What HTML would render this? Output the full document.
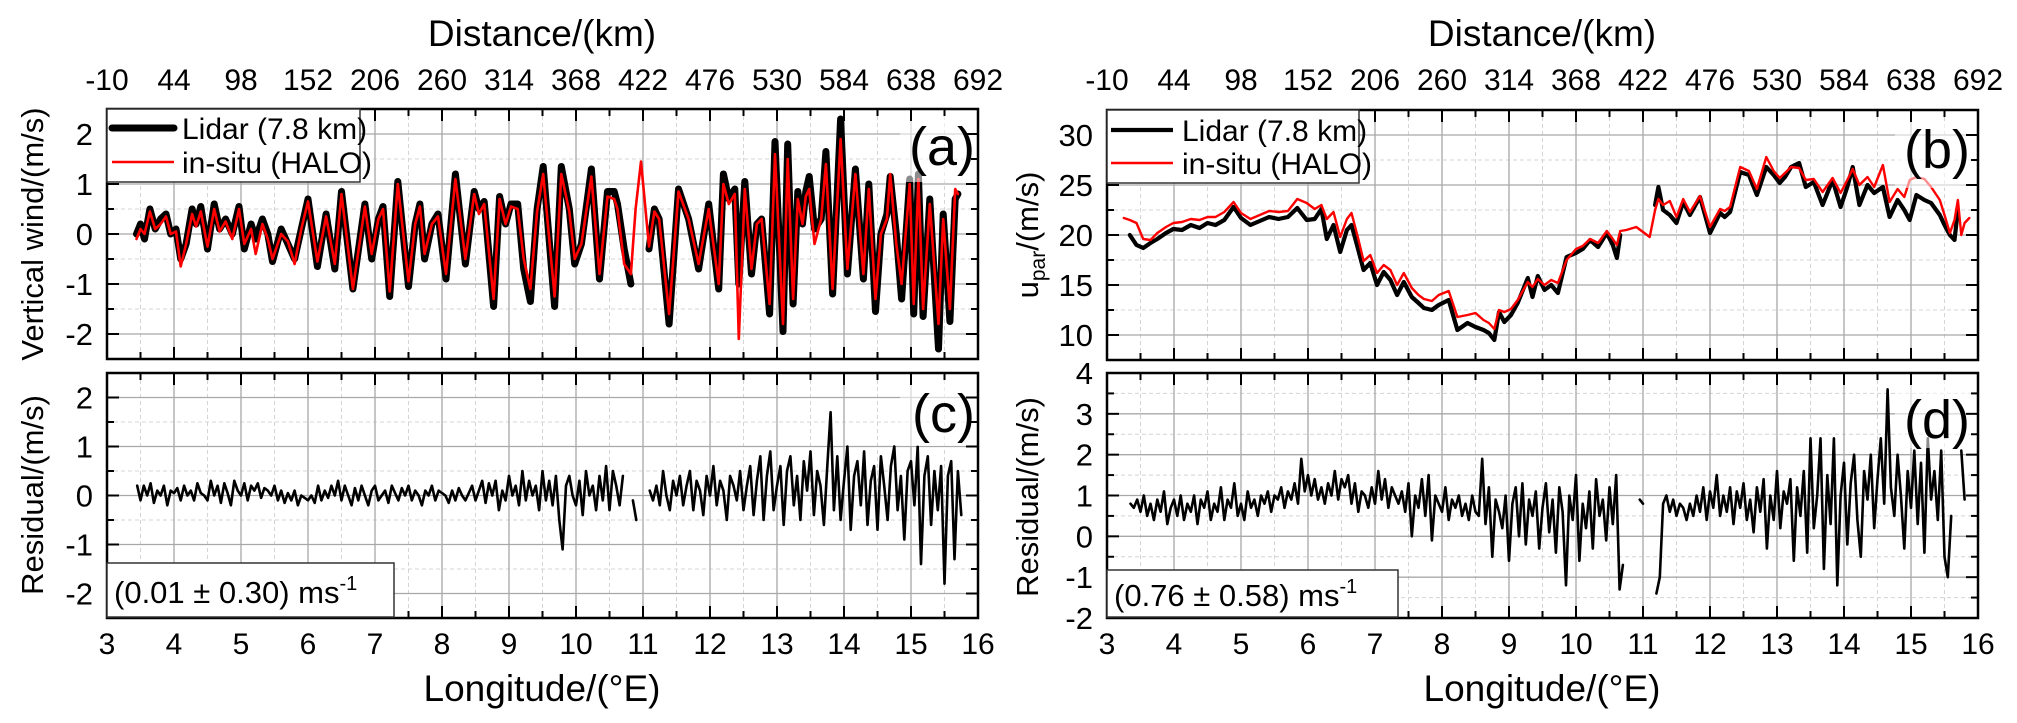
<!DOCTYPE html>
<html><head><meta charset="utf-8"><style>
html,body{margin:0;padding:0;background:#fff;}
svg{display:block;font-family:"Liberation Sans",sans-serif;}
</style></head><body>
<svg id="chart" width="2017" height="723" viewBox="0 0 2017 723" xmlns="http://www.w3.org/2000/svg"></svg>
<script>
// ---------- DATA ----------
const lonTicks=[3,4,5,6,7,8,9,10,11,12,13,14,15,16];
const distTicks=[-10,44,98,152,206,260,314,368,422,476,530,584,638,692];
// Panel (a): vertical wind
const lonA=[3.44,3.5,3.56,3.64,3.72,3.8,3.88,3.95,4.03,4.1,
4.18,4.27,4.33,4.4,4.5,4.6,4.68,4.77,4.87,4.97,
5.05,5.15,5.22,5.32,5.4,5.47,5.6,5.7,5.8,5.9,
6.0,6.14,6.27,6.4,6.5,6.67,6.85,6.95,7.05,7.12,
7.22,7.34,7.5,7.6,7.67,7.74,7.85,7.94,8.06,8.2,
8.35,8.48,8.55,8.63,8.77,8.86,8.95,9.03,9.13,9.22,
9.32,9.42,9.51,9.68,9.78,9.9,9.98,10.08,10.23,10.35,
10.47,10.57,10.62,10.72,10.82,10.89,10.97,11.09,11.17,11.24,
11.39,11.53,11.68,11.83,11.98,12.13,12.2,12.28,12.37,12.43,
12.52,12.62,12.7,12.77,12.89,12.97,13.09,13.16,13.24,13.31,
13.38,13.43,13.48,13.56,13.66,13.73,13.83,13.95,14.05,14.17,
14.29,14.37,14.47,14.55,14.64,14.69,14.78,14.86,14.98,15.04,
15.11,15.18,15.28,15.41,15.48,15.58,15.66,15.7];
const lidarA=[0.0,0.2,-0.1,0.5,0.1,0.3,0.4,0.0,0.1,-0.5,
-0.2,0.5,0.2,0.55,-0.3,0.6,0.1,0.3,0.0,0.55,
-0.3,0.2,-0.1,0.3,0.0,-0.55,0.1,-0.2,-0.5,0.1,
0.7,-0.65,0.4,-0.7,0.85,-1.1,0.6,-0.5,0.3,0.55,
-1.25,1.05,-1.05,0.2,0.6,-0.5,0.2,0.4,-0.9,1.2,
-0.6,0.85,0.5,0.65,-1.45,0.75,0.2,0.6,0.6,-0.7,
-1.35,0.5,1.35,-1.45,1.35,0.5,-0.6,-0.2,1.3,-0.9,
0.85,0.85,0.6,-0.3,-1.0,null,null,-0.3,0.5,0.3,
-1.8,0.9,0.3,-0.7,0.6,-1.1,1.2,0.7,0.9,-1.0,
1.05,-0.8,0.2,0.3,-1.6,1.85,-1.95,1.8,-1.4,0.85,
0.2,0.85,1.15,0.1,0.3,1.65,-1.2,2.3,-0.8,1.3,
-0.9,1.0,-1.55,0.0,0.4,1.15,0.0,-1.3,1.1,-1.6,
1.2,-1.65,0.7,-2.3,0.4,-1.75,0.7,0.8];
const insituA=[-0.1,0.1,0.0,0.45,0.1,0.2,0.35,0.0,0.05,-0.65,
-0.2,0.4,0.15,0.45,-0.25,0.5,0.05,0.25,-0.1,0.5,
-0.2,0.1,-0.4,0.2,-0.1,-0.5,0.0,-0.15,-0.6,0.1,
0.65,-0.55,0.35,-0.6,0.8,-1.1,0.55,-0.4,0.3,0.5,
-1.15,1.0,-0.95,0.2,0.55,-0.4,0.2,0.35,-0.8,1.1,
-0.5,0.8,0.4,0.6,-1.3,0.7,0.2,0.55,0.5,-0.5,
-1.1,0.45,1.2,-1.25,1.2,0.45,-0.5,-0.2,1.15,-0.8,
0.75,0.7,0.5,-0.6,-0.8,0.5,1.45,-0.25,0.45,0.3,
-1.6,0.85,0.3,-0.6,0.5,-1.0,1.0,0.6,0.8,-2.1,
0.9,-0.7,0.2,0.3,-1.4,1.6,-1.8,1.5,-1.3,0.7,
0.2,0.75,0.9,-0.2,0.3,1.4,-1.1,1.9,-0.7,1.2,
-0.8,0.9,-1.3,0.0,0.3,1.2,-0.2,-1.0,1.0,-1.4,
1.1,-1.5,0.6,-1.8,0.3,-1.5,0.9,0.8];
// Panel (b): u_par
const lonB=[3.25,3.34,3.44,3.54,3.65,3.75,3.88,3.99,4.12,4.25,
4.38,4.5,4.62,4.75,4.89,5.0,5.14,5.28,5.42,5.56,
5.7,5.84,5.98,6.1,6.2,6.28,6.38,6.48,6.58,6.65,
6.75,6.83,6.93,7.03,7.13,7.23,7.33,7.43,7.55,7.65,
7.73,7.85,7.95,8.1,8.23,8.38,8.5,8.62,8.7,8.78,
8.85,8.93,9.03,9.13,9.28,9.35,9.43,9.53,9.63,9.73,
9.86,10.0,10.1,10.21,10.33,10.46,10.55,10.61,10.66,10.75,
10.9,11.1,11.18,11.23,11.3,11.4,11.5,11.6,11.7,11.85,
12.0,12.15,12.22,12.3,12.45,12.58,12.7,12.84,12.95,13.04,
13.12,13.21,13.33,13.43,13.55,13.68,13.83,13.95,14.05,14.13,
14.23,14.35,14.45,14.58,14.68,14.8,14.9,14.98,15.08,15.2,
15.3,15.43,15.5,15.58,15.65,15.7,15.75,15.8,15.87];
const lidarB=[null,20.0,19.0,18.7,19.2,19.6,20.2,20.6,20.5,21.0,
20.7,21.2,21.0,21.5,22.8,21.7,21.0,21.4,21.8,21.6,
21.8,22.7,21.5,21.6,22.6,19.6,21.0,18.3,20.5,21.0,
18.5,16.5,17.2,15.0,16.3,15.5,14.0,15.3,13.8,13.2,
12.7,12.5,13.0,13.5,10.5,11.2,10.8,10.5,10.2,9.5,
12.3,11.3,12.0,13.2,15.7,13.8,15.9,14.5,15.0,14.2,
17.8,18.2,18.6,19.5,18.8,20.2,19.0,17.7,20.0,null,
null,null,23.0,24.8,22.5,22.0,21.2,23.3,22.0,23.8,
20.2,22.2,21.8,22.3,26.3,26.0,24.0,26.8,26.0,25.2,
25.8,26.8,27.2,24.8,25.3,23.0,25.5,22.8,24.8,26.8,
23.0,25.0,24.2,24.8,21.8,23.5,22.5,21.5,24.0,23.5,
23.2,22.0,21.0,20.0,19.5,22.5,null,null,null];
const insituB=[21.7,21.5,21.2,19.6,19.5,20.2,20.8,21.2,21.3,21.6,
21.5,21.8,21.8,22.3,23.3,22.2,21.6,22.0,22.4,22.3,
22.4,23.6,23.2,22.6,23.0,21.6,22.3,19.8,21.6,22.2,
19.6,17.4,18.0,16.2,17.0,16.5,15.0,16.2,14.7,14.0,
13.6,13.4,14.0,14.4,11.8,12.0,12.2,11.5,11.2,10.6,
12.5,12.3,12.6,13.5,15.3,14.8,15.6,15.0,15.5,15.2,
17.5,18.6,18.9,19.6,19.2,20.4,19.6,19.0,20.4,20.5,
20.8,19.8,22.5,23.6,23.0,23.4,21.8,23.6,22.3,23.9,
20.8,22.6,22.4,22.8,26.8,26.4,24.6,27.8,26.4,25.7,
26.2,26.8,26.7,25.5,25.6,24.3,25.7,24.2,25.5,26.6,
25.0,25.8,24.8,27.0,23.3,24.6,23.8,25.5,25.8,25.6,
24.8,23.5,22.0,20.2,21.5,23.5,20.0,21.2,21.7];
// Panel (c): residual of vertical wind, sampled every 0.05 deg from 3.45
const resCStart=3.45, resCStep=0.05;
const residualC=[0.2,-0.1,0.2,0.0,0.25,-0.15,0.1,0.0,0.2,-0.2,0.1,0.05,0.15,-0.1,0.2,0.0,0.1,-0.1,0.25,0.05,
0.0,-0.1,0.3,0.0,0.2,-0.15,0.25,0.05,-0.2,0.3,0.1,0.0,0.25,-0.1,0.2,0.1,0.25,-0.05,0.15,0.1,
0.0,0.2,-0.1,0.1,-0.15,0.05,-0.1,0.1,-0.2,0.0,-0.05,-0.1,0.0,-0.15,0.2,-0.1,0.1,-0.05,0.2,0.0,
0.3,-0.1,0.2,0.0,-0.2,0.15,-0.1,0.2,0.0,-0.2,0.1,0.2,-0.1,0.0,0.1,-0.15,0.2,0.05,-0.1,0.15,
0.0,0.2,-0.1,0.1,0.0,-0.2,0.1,0.0,0.2,-0.1,0.1,0.05,0.0,-0.15,0.1,-0.1,0.15,0.0,-0.1,0.05,
0.2,-0.1,0.1,0.3,-0.15,0.25,0.0,0.3,-0.3,0.1,-0.1,0.4,0.0,0.2,-0.2,0.5,-0.1,0.3,0.0,0.2,
-0.3,0.5,-0.1,0.3,-0.2,0.4,-0.5,-1.1,0.2,0.4,0.0,-0.2,0.3,-0.4,0.5,0.0,0.2,-0.3,0.4,-0.1,
0.6,-0.3,0.5,0.2,-0.2,0.4,null,null,-0.1,-0.5,null,null,null,0.1,-0.1,0.2,-0.2,0.5,0.0,-0.3,
0.3,0.0,0.4,-0.2,0.2,0.5,-0.3,0.3,0.1,-0.4,0.4,0.0,0.6,-0.2,0.3,0.1,-0.5,0.4,0.2,-0.1,
0.5,-0.3,0.2,0.6,-0.4,0.3,0.8,-0.5,0.4,0.9,-0.3,0.2,0.6,-0.6,0.5,0.8,-0.2,0.4,-0.5,0.7,
0.1,0.9,-0.4,0.5,0.2,-0.6,0.6,1.7,-0.3,0.8,-0.5,0.3,1.0,-0.7,0.4,0.7,-0.2,0.9,-0.6,0.3,
0.6,-0.7,0.8,0.2,-0.5,0.6,1.0,-0.3,0.4,-0.9,0.5,0.7,-0.2,1.0,-1.4,0.4,0.8,-0.6,0.5,-0.3,
0.6,-1.8,0.4,0.7,-1.3,0.5,-0.4];
// Panel (d): residual of u_par, sampled every 0.05 deg from 3.35
const resDStart=3.35, resDStep=0.05;
const residualD=[0.8,0.7,0.9,0.6,1.0,0.5,0.8,0.4,0.9,0.6,1.1,0.3,0.7,0.9,0.5,1.0,0.4,0.8,0.6,1.0,
0.3,0.9,0.7,1.1,0.4,0.8,0.6,1.2,0.4,0.9,0.7,1.3,0.5,0.8,0.4,1.1,0.7,0.9,0.5,1.0,
0.8,1.1,0.6,1.0,0.9,1.2,0.7,1.1,0.9,1.3,0.8,1.9,1.1,1.5,1.0,1.4,0.9,1.2,0.8,1.3,
1.0,1.6,0.9,1.4,1.2,1.5,0.8,1.3,0.6,1.1,1.0,0.7,1.2,0.8,1.6,0.9,1.4,0.7,1.2,1.0,
0.8,1.1,0.6,1.3,0.0,1.0,0.7,1.4,0.5,1.5,-0.1,1.0,0.8,0.6,1.2,0.4,0.9,0.7,1.0,0.5,
0.8,0.4,1.0,0.6,0.5,1.9,0.3,1.2,-0.5,0.9,0.6,0.2,1.0,-0.6,0.8,1.2,0.0,1.3,-0.2,0.9,
0.5,1.1,-0.3,0.7,1.3,0.1,0.9,-0.4,1.2,0.6,-1.2,1.0,0.4,1.5,-0.6,0.8,0.2,1.1,-0.3,1.4,
0.5,0.9,-0.1,1.2,0.3,1.5,-1.3,-0.7,null,null,null,null,0.9,0.8,null,null,null,-1.4,-1.0,0.8,
1.0,0.6,0.9,0.5,0.8,0.7,0.4,0.8,0.5,1.0,0.6,1.2,0.4,1.1,0.7,1.5,0.5,1.0,0.6,1.2,
0.3,1.1,0.7,1.3,0.4,0.9,0.1,1.2,0.6,1.4,-0.3,1.0,0.4,1.6,0.2,1.1,0.8,1.4,-0.6,1.2,
0.5,1.6,-0.4,2.4,0.2,1.0,2.4,-0.8,1.5,0.3,2.4,-1.2,1.0,1.8,-0.2,1.3,2.0,0.4,-0.5,1.6,
0.9,2.0,0.2,1.4,2.4,0.8,3.6,1.2,0.5,2.0,1.0,-0.3,1.6,0.7,2.1,0.3,1.8,-0.4,2.4,0.9,
1.6,0.4,2.1,-0.5,-1.0,0.5,null,null,2.1,0.9];
const yTicksA=[-2,-1,0,1,2], yTicksB=[10,15,20,25,30], yTicksC=[-2,-1,0,1,2], yTicksD=[-2,-1,0,1,2,3,4];

// ---------- HELPERS ----------
const NS="http://www.w3.org/2000/svg";
const svg=document.getElementById('chart');
function mk(tag,attrs,parent){const e=document.createElementNS(NS,tag);for(const k in attrs)e.setAttribute(k,attrs[k]);(parent||svg).appendChild(e);return e;}
function txt(s,attrs,parent){const e=mk('text',attrs,parent);e.textContent=s;return e;}
const panels={
 a:{x0:107,x1:978,y0:109,y1:359,min:-2.5,max:2.5,ticks:yTicksA,minor:0.5},
 c:{x0:107,x1:978,y0:373,y1:618,min:-2.5,max:2.5,ticks:yTicksC,minor:0.5},
 b:{x0:1107,x1:1978,y0:110,y1:360,min:7.5,max:32.5,ticks:yTicksB,minor:2.5},
 d:{x0:1107,x1:1978,y0:373,y1:618,min:-2,max:4,ticks:yTicksD,minor:0.5}};
function xs(p,lon){return p.x0+(lon-3)/13*(p.x1-p.x0);}
function ys(p,v){return p.y1-(v-p.min)/(p.max-p.min)*(p.y1-p.y0);}
function linePath(p,lons,vals){let d='',pen=false;for(let i=0;i<vals.length;i++){const v=vals[i];if(v===null||v===undefined||lons[i]===undefined){pen=false;continue;}d+=(pen?'L':'M')+xs(p,lons[i]).toFixed(1)+' '+ys(p,v).toFixed(1);pen=true;}return d;}
function seqLons(start,step,n){const a=[];for(let i=0;i<n;i++)a.push(+(start+i*step).toFixed(3));return a;}

function drawFrame(key,name){
 const p=panels[key];
 const g=mk('g',{});
 
 
 for(let i=0;i<lonTicks.length-1;i++){
  const xm=xs(p,lonTicks[i]+0.5);
  mk('line',{x1:xm,x2:xm,y1:p.y0,y2:p.y1,stroke:'#d4d4d4','stroke-width':1,'stroke-dasharray':'4 3'},g);
 }
 for(let v=p.min;v<=p.max+1e-9;v+=p.minor){
  if(p.ticks.some(t=>Math.abs(t-v)<1e-9))continue;
  const y=ys(p,v);
  mk('line',{x1:p.x0,x2:p.x1,y1:y,y2:y,stroke:'#d4d4d4','stroke-width':1,'stroke-dasharray':'4 3'},g);
 }
 lonTicks.forEach(t=>{const x=xs(p,t);mk('line',{x1:x,x2:x,y1:p.y0,y2:p.y1,stroke:'#a8a8a8','stroke-width':1.3},g);});
 p.ticks.forEach(t=>{const y=ys(p,t);mk('line',{x1:p.x0,x2:p.x1,y1:y,y2:y,stroke:'#a8a8a8','stroke-width':1.3},g);});
}
function drawAxes(key,name,showBottomLabels,showTopLabels){
 const p=panels[key];
 const g=mk('g',{});
 
 
 lonTicks.forEach((t,i)=>{
  const x=xs(p,t);
  mk('line',{x1:x,x2:x,y1:p.y1,y2:p.y1-12,stroke:'#000','stroke-width':2},g);
  mk('line',{x1:x,x2:x,y1:p.y0,y2:p.y0+12,stroke:'#000','stroke-width':2},g);
  if(i<lonTicks.length-1){const xm=xs(p,t+0.5);
   mk('line',{x1:xm,x2:xm,y1:p.y1,y2:p.y1-7,stroke:'#000','stroke-width':2},g);
   mk('line',{x1:xm,x2:xm,y1:p.y0,y2:p.y0+7,stroke:'#000','stroke-width':2},g);}
  if(showBottomLabels){const l=txt(String(t),{x:x,y:654,'font-size':30,'text-anchor':'middle',fill:'#000'},g);
   
   }
  if(showTopLabels){const l=txt(String(distTicks[i]),{x:x,y:90,'font-size':30,'text-anchor':'middle',fill:'#000'},g);
   
   }
 });
 for(let v=p.min;v<=p.max+1e-9;v+=p.minor){
  const y=ys(p,v);const major=p.ticks.some(t=>Math.abs(t-v)<1e-9);const L=major?12:7;
  mk('line',{x1:p.x0,x2:p.x0+L,y1:y,y2:y,stroke:'#000','stroke-width':2},g);
  mk('line',{x1:p.x1,x2:p.x1-L,y1:y,y2:y,stroke:'#000','stroke-width':2},g);
 }
 p.ticks.forEach(t=>{const l=txt(String(t),{x:p.x0-14,y:ys(p,t)+11,'font-size':31,'text-anchor':'end',fill:'#000'},g);
  
  });
 mk('rect',{x:p.x0,y:p.y0,width:p.x1-p.x0,height:p.y1-p.y0,fill:'none',stroke:'#000','stroke-width':2.5},g);
}
function series(key,lons,vals,color,width,name){
 const p=panels[key];
 const e=mk('path',{d:linePath(p,lons,vals),fill:'none',stroke:color,'stroke-width':width,'stroke-linejoin':'round','stroke-linecap':'round'});
 
 
 return e;
}
function fadeBox(x,y,w,h,name){const r=mk('rect',{x:x,y:y,width:w,height:h,fill:'#fff','fill-opacity':0.55});
 
 }
function panelLabel(s,x,y,name){const t=txt(s,{x:x,y:y,'font-size':54,'text-anchor':'end',fill:'#000'});
 
 }

// ---------- DRAW ----------
['a','c','b','d'].forEach(k=>drawFrame(k,'panel-'+k));
const lonC=seqLons(resCStart,resCStep,residualC.length);
const lonD=seqLons(resDStart,resDStep,residualD.length);
series('a',lonA,lidarA,'#000',7,'lidar-vertical-wind-line');
series('a',lonA,insituA,'#ff0000',2.6,'insitu-vertical-wind-line');
series('c',lonC,residualC,'#000',2.6,'vertical-wind-residual-line');
series('b',lonB,lidarB,'#000',4.2,'lidar-upar-line');
series('b',lonB,insituB,'#ff0000',2.4,'insitu-upar-line');
series('d',lonD,residualD,'#000',2.6,'upar-residual-line');
fadeBox(900,116,74,66,'panel-a-label-backdrop');
fadeBox(1895,122,78,66,'panel-b-label-backdrop');
fadeBox(900,380,74,66,'panel-c-label-backdrop');
fadeBox(1895,378,78,70,'panel-d-label-backdrop');
drawAxes('a','panel-a',false,true);
drawAxes('c','panel-c',true,false);
drawAxes('b','panel-b',false,true);
drawAxes('d','panel-d',true,false);
panelLabel('(a)',975,165,'panel-a-label');
panelLabel('(b)',1970,168,'panel-b-label');
panelLabel('(c)',975,432,'panel-c-label');
panelLabel('(d)',1970,438,'panel-d-label');
</script>
<script>
// legends, stats boxes and titles (static)
const s2=document.getElementById('chart');
s2.insertAdjacentHTML('beforeend',`
<g>
 <rect x="107" y="109" width="253" height="73" fill="#fff" stroke="#333" stroke-width="1.5"/>
 <line x1="112" y1="128" x2="174" y2="128" stroke="#000" stroke-width="7" stroke-linecap="round"/>
 <text x="182" y="139" font-size="30">Lidar (7.8 km)</text>
 <line x1="112" y1="162" x2="174" y2="162" stroke="#ff0000" stroke-width="2.6"/>
 <text x="182" y="173" font-size="30">in-situ (HALO)</text>
</g>
<g>
 <rect x="1107" y="110" width="252" height="73" fill="#fff" stroke="#333" stroke-width="1.5"/>
 <line x1="1111" y1="130" x2="1173" y2="130" stroke="#000" stroke-width="4.2"/>
 <text x="1182" y="141" font-size="30">Lidar (7.8 km)</text>
 <line x1="1111" y1="163" x2="1173" y2="163" stroke="#ff0000" stroke-width="2.4"/>
 <text x="1182" y="174" font-size="30">in-situ (HALO)</text>
</g>
<g>
 <rect x="107" y="563" width="287" height="54" fill="#fff" stroke="#333" stroke-width="1.5"/>
 <text x="114" y="603" font-size="31">(0.01 ± 0.30) ms<tspan dy="-13" font-size="20">-1</tspan></text>
</g>
<g>
 <rect x="1107" y="570" width="291" height="47" fill="#fff" stroke="#333" stroke-width="1.5"/>
 <text x="1114" y="606" font-size="31">(0.76 ± 0.58) ms<tspan dy="-13" font-size="20">-1</tspan></text>
</g>
<text x="542" y="46" font-size="37" text-anchor="middle">Distance/(km)</text>
<text x="1542" y="46" font-size="37" text-anchor="middle">Distance/(km)</text>
<text x="542" y="701" font-size="37" text-anchor="middle">Longitude/(°E)</text>
<text x="1542" y="701" font-size="37" text-anchor="middle">Longitude/(°E)</text>
<text transform="translate(43,234) rotate(-90)" font-size="31" text-anchor="middle">Vertical wind/(m/s)</text>
<text transform="translate(43,495) rotate(-90)" font-size="31" text-anchor="middle">Residual/(m/s)</text>
<text transform="translate(1038,235) rotate(-90)" font-size="31" text-anchor="middle">u<tspan font-size="21" dy="7">par</tspan><tspan dy="-7">/(m/s)</tspan></text>
<text transform="translate(1038,497) rotate(-90)" font-size="31" text-anchor="middle">Residual/(m/s)</text>
`);
</script>
</body></html>
